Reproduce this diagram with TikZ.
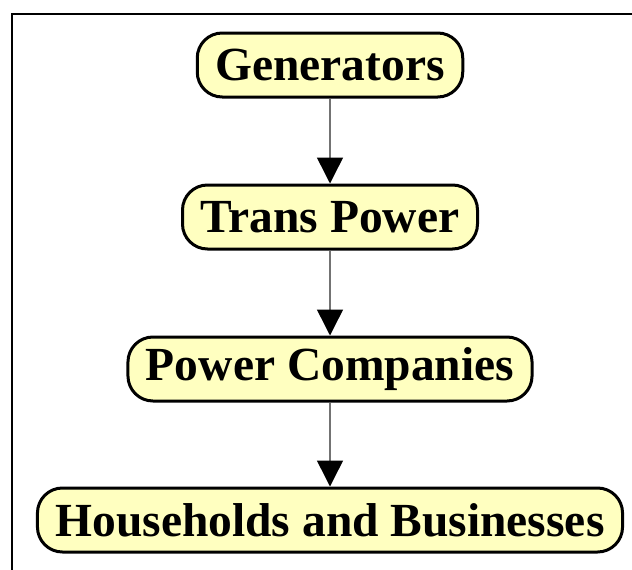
\documentclass[tikz,border=0pt]{standalone}
\usepackage{fontspec}
\setmainfont{Liberation Serif}
\usetikzlibrary{arrows.meta}
\definecolor{boxfill}{RGB}{255,255,192}
\tikzset{
  stage/.style={draw=black, line width=3pt, fill=boxfill, rounded corners=25pt,
    font=\fontsize{47.5}{50}\selectfont\bfseries, inner xsep=18pt, minimum height=64pt},
  feed/.style={draw=black!55, line width=1.5pt, -{Triangle[width=26pt,length=26pt,color=black]}}
}
\begin{document}
\begin{tikzpicture}[x=1pt,y=-1pt]
\useasboundingbox (0,0) rectangle (632,570);
% frame
\draw[line width=1.2pt] (12,570) -- (12,14) -- (632,14);

\node[stage] (gen) at (330,65) {Generators};
\node[stage] (trans) at (330,217) {Trans Power};
\node[stage] (comp) at (330,369) {Power Companies};
\node[stage] (house) at (330,520) {Households and Businesses};

\draw[feed] (gen) -- (trans);
\draw[feed] (trans) -- (comp);
\draw[feed] (comp) -- (house);
\end{tikzpicture}
\end{document}
